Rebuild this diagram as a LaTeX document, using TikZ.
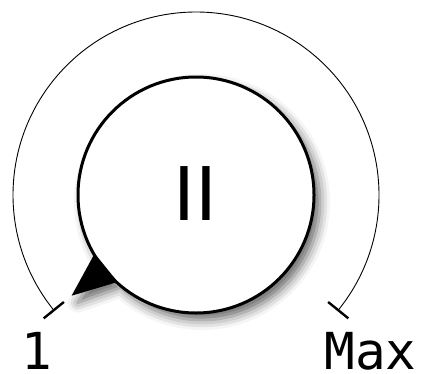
\documentclass[tikz,border=0pt]{standalone}
\usepackage{fontspec}
\setsansfont{DejaVu Sans}
\setmonofont{DejaVu Sans Mono}
\usetikzlibrary{shadows.blur}

\begin{document}
\begin{tikzpicture}[x=1pt, y=1pt,
    knobshadow/.style={blur shadow={shadow xshift=6pt, shadow yshift=-7pt,
        shadow blur radius=10pt, shadow opacity=60}},
    scalelabel/.style={anchor=base, inner sep=0pt, font=\ttfamily\fontsize{51}{51}\selectfont}]
    \useasboundingbox (0,0) rectangle (427,373);
    \coordinate (C) at (196,178);

    % Draw the scale arc and its end ticks
    \draw [line width=0.9pt] (C) ++(-39:183) arc[start angle=-39, end angle=219, radius=183];
    \draw [line width=2.4pt] (C) ++(219:170) -- ++(219:26);
    \draw [line width=2.4pt] (C) ++(-39:170) -- ++(-39:26);

    % Draw the knob with its pointer
    \fill [white, knobshadow] (C) circle (118)
        ($(C)+(211:116)$) -- ($(C)+(219:160)$) -- ($(C)+(227:116)$) -- cycle;
    \draw [line width=3pt, fill=white] (C) circle (118);
    \fill [black] ($(C)+(210:117)$) -- ($(C)+(219:160)$) -- ($(C)+(228:117)$) -- cycle;
    \node (level) at (195.5,179) {\sffamily\fontsize{74}{74}\selectfont II};

    % Labels at both ends
    \node [scalelabel] (min) at (36.5,4) {1};
    \node [scalelabel] (max) at (370.5,4) {Max};
\end{tikzpicture}
\end{document}
